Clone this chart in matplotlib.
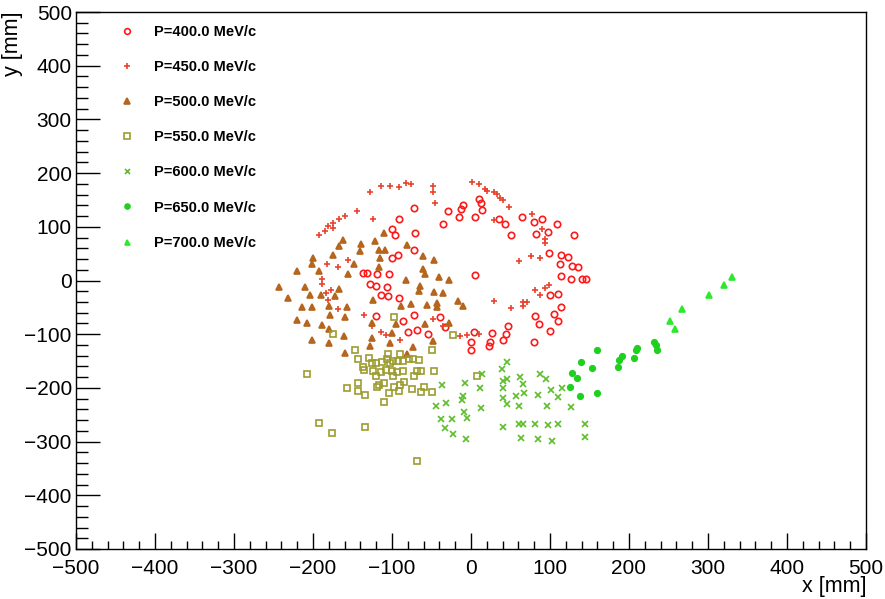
import matplotlib
matplotlib.use('Agg')
import matplotlib.pyplot as plt
from matplotlib.ticker import MultipleLocator

plt.rcParams['font.family'] = ['Liberation Sans', 'DejaVu Sans']

# ─── data (mm) ──────────────────────────────────────────────────
p400_x = [-35.8, -28.7, -14.8, -13.1, -10.5, 5.1, 10.5, 12.7, 13.9, 35.9, 43.5, 50.6, 64.6, 79.8,
          89.9, 81.9, 97.5, 108.5, 130.4, 98.3, 113.5, 123.2, 112.2, 127.4, 135.5, 114, 126.2,
          140.5, 145.6, 4.6, 100.4, 109.7, 113.5, 81, 105, 110, 86, 100.4, 46.8, 44.3, 40.5, 27,
          24, 22.4, 4.2, -0.4, 80.2, -39.2, -54, -32.5, 0.4,
          -72.2, -90.7, -100, -95.8, -71.3, -72.2, -92.4, -100.4, -137.1, -132, -119.4, -104.2,
          -127.9, -120.3, -106, -114.3, -105, -90.7, -72.2, -119.9, -85.7, -79.4, -68.8]
p400_y = [106, 129, 119, 133, 141.5, 118.6, 151, 144.6, 132, 115, 105.5, 85, 118, 109,
          115, 87, 90, 105, 83.8, 51.5, 47.8, 44.1, 29.8, 27.3, 25.4, 8.7, 3.1,
          3.1, 3.7, 10.5, -27.3, -25.4, -49, -66.4, -63.3, -74.5, -80.7, -93.7, -84.4, -99.9, -109.9, -97.5,
          -113.6, -121.7, -96.2, -113.6, -114.2, -68.9, -99.3, -87.5, -128.5,
          134.1, 113.6, 96.2, 84.4, 88.8, 56.4, 48.4, 42.2, 14.3, 14.3, 13, 12.4,
          -7.4, -10.6, -12.4, -26.1, -29.2, -32.3, -64.5, -67, -74.5, -95.6, -92.5]

p450_x = [-47.7, -47.7, -46, 1.7, 10.1, 18.1, 19.8, 29.1, 32.5, 36.7, 40.9, 48.1, 29.1, 76.8,
          89.5, 93.7, 93.7, 61.2, 75.5, 87.8, 81.4, 93.7, 98.3, 87.8, 65.4, 71.3, 65.4, 29.1,
          50.2, 10.5, -5.5, -13.9, -47.7, -35,
          -192, -184.8, -181.4, -175.1, -174.3, -167.1, -159.5, -144.7, -127.9, -114.3, -102.5,
          -90.7, -82.7, -76.3, -123.6, -156.1, -168.8, -182.7, -189, -189, -183.6, -177.6,
          -181.4, -168.8, -135, -125.7, -114, -108, -89.9]
p450_y = [176.9, 164.5, 145, 183.7, 180, 170.7, 167, 164.5, 161.4, 154, 150.8, 136.5, 112.3, 124.2,
          96.2, 77.6, 70.2, 35.4, 44.7, 42.2, -16.8, -14.3, -8.1, -27.3, -40.3, -39.7, -47.8, -39.1,
          -51.5, -99.9, -101.8, -103.7, -71.4, -85,
          83.8, 91.8, 101.1, 98.1, 107.4, 113.6, 119.7, 128.5, 165.1, 175.6, 176.9,
          173.8, 181.9, 180.6, 114.8, 39.1, 24.8, 31.1, 3.1, -7.4, -24.2, -16.8,
          -35.4, -52.8, -64.5, -85, -95.6, -101.8, -111.7]

p500_x = [-161.6, -167.1, -138.8, -110.1, -121.5, -116.9, -108.5, -81.4, -199.6, -201.7, -175.1,
          -140.5, -148.1, -115.2, -116, -220.7, -192, -155.3, -242.6, -210.2, -166.7, -232.1,
          -203.8, -190.3, -172.6, -123.7, -82.3, -64.6, -65.4, -213.5, -200.9, -179.3, -157.4,
          -88.2, -75.5, -220.7, -208, -188.6, -178.5, -159.1, -125.7, -95, -200.9, -179.8,
          -160.8, -100,
          -61.2, -46.8, -60.3, -58.7, -40.1, -27.9, -46.8, -35, -56.1, -43.5, -42.6, -16, -9.7,
          -58.2, -28.3, -47.7,
          -159.5, -125.7, -127.9, -102.5, -81.4, -73.8, -179.4]
p500_y = [75.1, 63.9, 68.9, 88.8, 73.2, 56.4, 56.4, 65.2, 42.2, 29.8, 48.4,
          54.6, 31.1, 42.2, 25.4, 17.4, 18.6, 13, -11.8, -11.8, -14.9, -33.5,
          -27.9, -27.9, -29.2, -36.6, 0.6, -10.6, -19.9, -49.6, -49.6, -46.6, -49,
          -46.6, -44.1, -73.9, -78.8, -83.2, -64.5, -68.9, -78.8, -80.7, -111.7, -116,
          -103.7, -97.5,
          45.3, 39.1, 21.7, 13, 6.8, 0.6, -21.7, -24.2, -44.7, -41.6, -49, -38.5, -47.8,
          -81.9, -78.8, -113,
          -134.7, -106.7, -122.3, -116, -136.5, -123.5, -91]

p550_x = [-175.1, -146.9, -143.5, -129.6, -120.3, -113.1, -106.8, -105.5, -102.5, -98.3, -92,
          -89.9, -85.7, -78.5, -73, -65.8, -97.1, -49.8, -22.4, 7.2, -207.2, -156.6, -142.7,
          -142.7, -136.3, -135.5, -134.2, -125.7, -124.4, -120.3, -119.4, -116.1, -114.3, -110.1,
          -110.1, -108, -103.4, -100.4, -99.1, -97.5, -93.3, -91.2, -89.9, -85.7, -84.8, -75.1,
          -72.2, -68.8, -63.3, -63.7, -59.5, -49.8, -46.5, -192, -176.4, -134.2, -68.8]
p550_y = [-98.7, -128.5, -145.9, -144, -153.3, -151.4, -147.1, -137.8, -153.3, -150.2, -150.2,
          -137.8, -150.2, -147.1, -147.1, -148.4, -67.6, -128.5, -102.4, -178.2, -173.7, -199.8, -191.8,
          -206.1, -160.7, -167, -214.1, -154.5, -168.9, -178.2, -197.9, -194.2, -170.7, -191.8,
          -226.6, -167, -209.1, -168.9, -178.2, -197.9, -170.7, -206.1, -195.5, -168.9, -189.4, -201.7,
          -178.2, -168.9, -168.9, -208, -197.9, -208, -167.6, -265, -283.6, -273.1, -336.4]

p600_x = [46, 38.8, 13.5, 46, 40.1, 62, 65.4, 87.4, 94.5, -7.6, -37.1, 11.4, 40.1, 100.9, 115.6,
          67.5, 57, 40.1, 85.2, 110.5, -9.7, -11, -44.7, -31.7, 12.7, 46, 60.8, 96.6, 126.6,
          -8.4, -4.6, -38.4, -24.5, -32.9, -23.2, -6.3, 40.1, 61.2, 65.4, 81, 97.1, 110.5,
          144.3, 63.3, 85.2, 102.2, 144.3]
p600_y = [-151.4, -165.7, -173.2, -183.1, -187.4, -180, -193.6, -173.2, -184.3, -190.5, -195.5,
          -201.1, -201.1, -203, -199.9, -210.4, -215.4, -218.5, -214.1, -216.6, -215.4, -223.4,
          -232.8, -227.8, -237.1, -230.9, -234, -234, -235.9, -244.5, -255.7, -257, -257, -274.3,
          -285.5, -294.8, -272.5, -268.1, -266.9, -268.1, -269.4, -266.3, -268.1, -294.2, -294.8,
          -299.2, -291.8]

p650_x = [159.1, 139.3, 153.6, 128.2, 134.6, 125.3, 138.4, 159.5, 185.7, 187.8, 190.8, 206.7,
          208.5, 210.5, 232, 234.2, 235.1]
p650_y = [-129.7, -152.1, -162.6, -171.9, -181.9, -197.9, -215.4, -209.8, -160.7, -148.4, -139.7,
          -144, -130.3, -125.3, -114.1, -119.2, -128.5]

p700_x = [251.9, 258.3, 266.7, 301.7, 320.3, 330.8]
p700_y = [-75.8, -91.2, -54, -26.1, -9.3, 6.2]

labels = ['P=400.0 MeV/c', 'P=450.0 MeV/c', 'P=500.0 MeV/c', 'P=550.0 MeV/c',
          'P=600.0 MeV/c', 'P=650.0 MeV/c', 'P=700.0 MeV/c']

# marker, colour, size, filled
STYLES = [
    ('o', '#ff1a1a', 4.6, False),
    ('+', '#e8432d', 5.0, True),
    ('^', '#b5651d', 5.0, True),
    ('s', '#9c9c30', 4.2, False),
    ('x', '#5cbf2a', 4.0, True),
    ('o', '#1fd11f', 4.0, True),
    ('^', '#2de82d', 4.0, True),
]

series = [(p400_x, p400_y), (p450_x, p450_y), (p500_x, p500_y), (p550_x, p550_y),
          (p600_x, p600_y), (p650_x, p650_y), (p700_x, p700_y)]

fig = plt.figure(figsize=(8.85, 5.99), dpi=100)
ax = fig.add_axes([76 / 885, 1 - 549 / 599, 790 / 885, 537 / 599])

for (xs, ys), lab, (mk, col, ms, filled) in zip(series, labels, STYLES):
    ax.plot(xs, ys, linestyle='none', marker=mk, markersize=ms,
            markerfacecolor=col if filled else 'none', markeredgecolor=col,
            markeredgewidth=1.2, label=lab)

ax.set_xlim(-500, 500)
ax.set_ylim(-500, 500)
ax.xaxis.set_major_locator(MultipleLocator(100))
ax.xaxis.set_minor_locator(MultipleLocator(20))
ax.yaxis.set_major_locator(MultipleLocator(100))
ax.yaxis.set_minor_locator(MultipleLocator(20))
ax.tick_params(axis='both', which='both', direction='in', labelsize=15, width=1)
ax.tick_params(axis='x', which='major', length=11.5, pad=7)
ax.tick_params(axis='x', which='minor', length=5.8)
ax.tick_params(axis='y', which='major', length=17, pad=3)
ax.tick_params(axis='y', which='minor', length=8.5)
for s in ax.spines.values():
    s.set_linewidth(1.0)

ax.set_xlabel('x [mm]', fontsize=15.5, loc='right', labelpad=-1)
ax.set_ylabel('y [mm]', fontsize=15.5, loc='top', labelpad=1)

leg = ax.legend(loc='upper left', bbox_to_anchor=(0.05, 0.987), frameon=False,
                prop={'size': 10.5, 'weight': 'bold'}, handlelength=0.8,
                handletextpad=1.45, labelspacing=1.45, borderaxespad=0, markerscale=0.9)

fig.savefig('out.png', dpi=100, facecolor='white')
